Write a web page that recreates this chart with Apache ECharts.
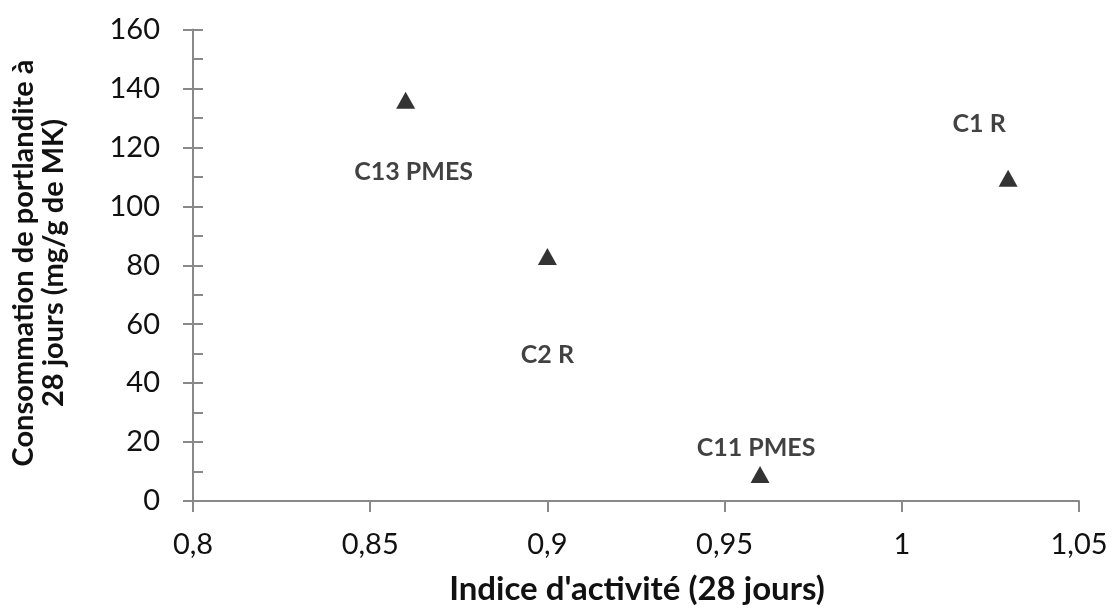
<!DOCTYPE html>
<html><head><meta charset="utf-8">
<script src="https://cdn.jsdelivr.net/npm/echarts@6/dist/echarts.min.js"></script>
<style>html,body{margin:0;padding:0;background:#fff}#c{width:1114px;height:616px}</style>
</head><body><div id="c"></div>
<script>
const names = ['C13 PMES', 'C2 R', 'C11 PMES', 'C1 R'];
const xValues = [0.86, 0.90, 0.96, 1.03];
const yValues = [136, 83, 9, 109.5];
const xTitle = "Indice d'activité (28 jours)";
const yTitle = ['Consommation de portlandite à', '28 jours (mg/g de MK)'];

const labelOffsets = {'C13 PMES':[8,72], 'C2 R':[0,99], 'C11 PMES':[-4,-27], 'C1 R':[-29,-54]};
const FONT = 'Lato, "Open Sans", sans-serif';
const chart = echarts.init(document.getElementById('c'), null, {renderer:'canvas'});
const data = names.map((n,i)=>({
  value:[xValues[i], yValues[i]], name:n,
  label:{show:true, formatter:n, position:'inside', offset:labelOffsets[n],
    fontFamily:FONT, fontWeight:'bold', fontSize:25, color:'#111'}
}));
chart.setOption({
  animation:false,
  grid:{left:193, right:35, top:29.5, bottom:115, containLabel:false},
  xAxis:{type:'value', min:0.8, max:1.05, interval:0.05,
    axisLine:{show:true, onZero:false, lineStyle:{color:'#898989', width:2}},
    axisTick:{show:true, inside:false, length:11, lineStyle:{color:'#898989', width:2}},
    splitLine:{show:false},
    axisLabel:{fontFamily:FONT, fontSize:29, color:'#111', margin:29,
      formatter:v=>String(Math.round(v*100)/100).replace('.',',')}},
  yAxis:[{type:'value', min:0, max:160, interval:20,
    axisLine:{show:true, lineStyle:{color:'#898989', width:2}},
    axisTick:{show:true, inside:false, length:10, lineStyle:{color:'#898989', width:2}},
    splitLine:{show:false},
    axisLabel:{fontFamily:FONT, fontSize:29, color:'#111', margin:33}},
   {type:'value', min:0, max:160, interval:20, position:'left',
    axisLine:{show:false},
    axisTick:{show:true, inside:true, length:10, lineStyle:{color:'#898989', width:2}},
    minorTick:{show:true, splitNumber:2, length:10, lineStyle:{color:'#898989', width:2}},
    splitLine:{show:false}, axisLabel:{show:false}}],
  series:[{type:'scatter', symbol:'triangle', symbolSize:[19,17],
    itemStyle:{color:'#000'}, data:data}],
  graphic:[
    {type:'text', x:637, y:589, style:{text:xTitle, font:'bold 33px '+FONT, fill:'#111', align:'center', verticalAlign:'middle'}},
    {type:'text', rotation:Math.PI/2, x:24, y:263,
      style:{text:yTitle[0], font:'bold 29px '+FONT, fill:'#111', align:'center', verticalAlign:'middle'}},
    {type:'text', rotation:Math.PI/2, x:54, y:263,
      style:{text:yTitle[1], font:'bold 29px '+FONT, fill:'#111', align:'center', verticalAlign:'middle'}}
  ]
});
</script></body></html>
